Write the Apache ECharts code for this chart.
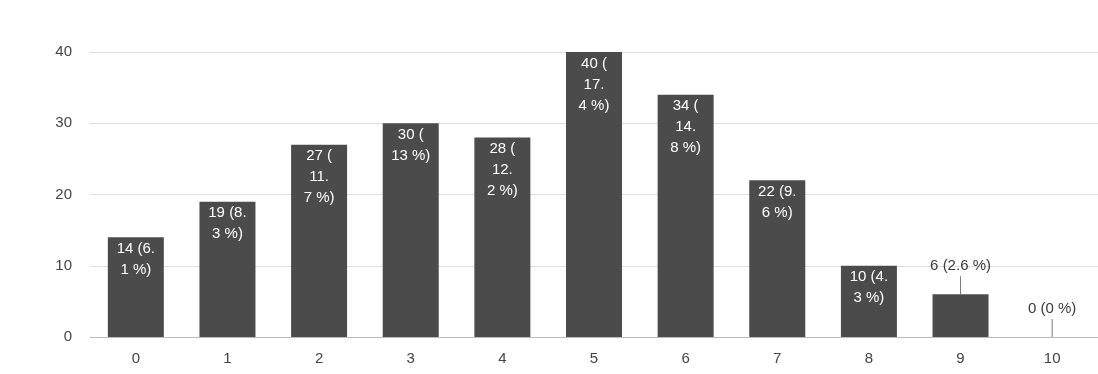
<!DOCTYPE html>
<html>
<head>
<meta charset="utf-8">
<script src="https://cdn.jsdelivr.net/npm/echarts@6/dist/echarts.min.js"></script>
<style>
  html, body { margin: 0; padding: 0; background: #fff; }
  #chart { width: 1098px; height: 374px; }
</style>
</head>
<body>
<div id="chart"></div>
<script>
// Rating scale 0..10 and the number of responses for each score
const categories = ['0', '1', '2', '3', '4', '5', '6', '7', '8', '9', '10'];
const counts = [14, 19, 27, 30, 28, 40, 34, 22, 10, 6, 0];
const yTicks = [0, 10, 20, 30, 40];

const FAMILY = '"Liberation Sans", Arial, sans-serif';
const LABEL_SIZE = 15;
const LABEL_WIDTH = 42;
const LINE_H = 21;

const total = counts.reduce((a, b) => a + b, 0);

function pctText(v) {
  let s = (v / total * 100).toFixed(1);
  if (s.endsWith('.0')) s = s.slice(0, -2);
  return v + ' (' + s + '\u00a0%)';
}

// Wrap a value tag: it may break after a space, '(' or '.', never before '%'
const ctx = document.createElement('canvas').getContext('2d');
ctx.font = LABEL_SIZE + 'px ' + FAMILY;
function wrap(text) {
  const pieces = text.match(/[^ (.]*[ (.]?/g).filter(p => p.length);
  const lines = [];
  let cur = '';
  for (const p of pieces) {
    const trial = cur + p;
    if (cur && ctx.measureText(trial.trimEnd()).width > LABEL_WIDTH) {
      lines.push(cur.trimEnd());
      cur = p;
    } else {
      cur = trial;
    }
  }
  if (cur) lines.push(cur.trimEnd());
  return lines;
}

const yMax = yTicks[yTicks.length - 1];
const plotH = 285;

const seriesData = counts.map((v, i) => {
  const txt = pctText(v);
  const lines = wrap(txt);
  const barPx = v / yMax * plotH;
  const fitsInside = barPx >= lines.length * LINE_H + 14;
  if (fitsInside) {
    return {
      value: v,
      label: {
        show: true, position: 'insideTop', distance: 1,
        formatter: () => lines.join('\n'),
        color: '#ffffff', lineHeight: LINE_H
      }
    };
  }
  return {
    value: v,
    label: {
      show: true, position: 'top', distance: 18,
      formatter: () => txt,
      color: '#3a3a3a', lineHeight: LINE_H
    },
    labelLine: { show: true, lineStyle: { color: '#777', width: 1 } }
  };
});

const chart = echarts.init(document.getElementById('chart'));
chart.setOption({
  animation: false,
  grid: { left: 90, right: -5, top: 52, bottom: 37, containLabel: false },
  xAxis: {
    type: 'category',
    data: categories,
    axisTick: { show: false },
    axisLine: { lineStyle: { color: '#bbbbbb' } },
    axisLabel: { color: '#444444', fontSize: 15, margin: 14, fontFamily: FAMILY }
  },
  yAxis: {
    type: 'value',
    min: yTicks[0], max: yMax, interval: 10,
    axisLabel: { color: '#444444', fontSize: 15, margin: 18, fontFamily: FAMILY },
    splitLine: { lineStyle: { color: '#dddddd' } },
    axisLine: { show: false }, axisTick: { show: false }
  },
  series: [{
    type: 'bar',
    data: seriesData,
    barWidth: 56,
    itemStyle: { color: '#4b4b4b' },
    label: { fontSize: LABEL_SIZE, fontFamily: FAMILY },
    labelLine: { show: false },
    labelLayout: { hideOverlap: false }
  }]
});
</script>
</body>
</html>
